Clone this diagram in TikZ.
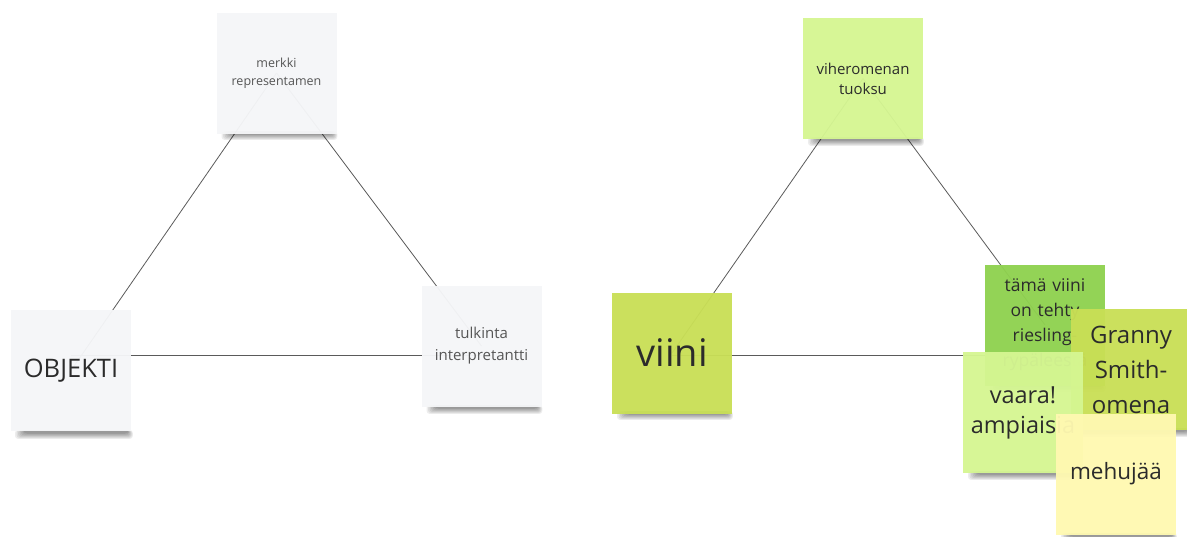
\documentclass[tikz,border=0pt]{standalone}
\usepackage{fontspec}
\setmainfont{Open Sans}
\usetikzlibrary{backgrounds}
\definecolor{notegray}{HTML}{F5F6F8}
\definecolor{lightgreen}{HTML}{D5F692}
\definecolor{limegreen}{HTML}{C9DF56}
\definecolor{midgreen}{HTML}{8FD14F}
\definecolor{lightyellow}{HTML}{FFF9B1}
\definecolor{textdark}{HTML}{2B2B2B}
\definecolor{textgray}{HTML}{555555}
\definecolor{linec}{HTML}{5A5A5A}
\tikzset{
  sticky/.style={minimum width=120pt, minimum height=121pt, inner sep=0pt,
    align=center, text width=114pt, text=textdark, fill opacity=0.96, text opacity=1},
  connector/.style={draw=linec, line width=0.8pt},
}
\newcommand\noteshadow[3]{%
  \foreach \k in {0,...,6}{
    \fill[black, opacity=0.07, rounded corners=3pt]
      (#1-#3+14-\k*1.5, #2-2) rectangle (#1+#3-4+\k*0.8, #2+1.5+\k*0.9);
  }}
\begin{document}
\begin{tikzpicture}[x=1pt,y=-1pt]
\useasboundingbox (0,0) rectangle (1187,536);

% left triangle
\noteshadow{276.5}{133}{60}
\node[sticky, fill=notegray, text=textgray, font=\fontsize{12.5}{18}\selectfont] (merkki) at (276.5,73) {merkki\\representamen};
\noteshadow{71}{432}{61}
\node[sticky, fill=notegray, font=\fontsize{25.5}{30}\selectfont] (objekti) at (71,370.5) {OBJEKTI};
\noteshadow{481.5}{407}{60}
\node[sticky, fill=notegray, text=textgray, font=\fontsize{15}{22}\selectfont] (tulkinta) at (481.5,346) {tulkinta\\interpretantti};

% right triangle
\noteshadow{863}{139}{60}
\node[sticky, fill=lightgreen, font=\fontsize{15}{20}\selectfont] (viher) at (863,78.5) {viheromenan\\tuoksu};
\noteshadow{672}{413}{60}
\node[sticky, fill=limegreen, font=\fontsize{38}{44}\selectfont] (viini) at (672,353) {viini};
\noteshadow{1045}{385}{60}
\node[sticky, fill=midgreen, font=\fontsize{17.5}{25}\selectfont] (tama) at (1045,325) {tämä viini\\on tehty\\riesling-\\rypäleestä};
\noteshadow{1131}{430}{60}
\node[sticky, fill=limegreen, font=\fontsize{24}{35}\selectfont] (granny) at (1131,369.5) {Granny\\Smith-\\omena};
\noteshadow{1023}{473}{60}
\node[sticky, fill=lightgreen, font=\fontsize{23.5}{30}\selectfont] (vaara) at (1023,412.5) {vaara!\\ampiaisia};
\noteshadow{1116}{535}{60}
\node[sticky, fill=lightyellow, font=\fontsize{22.5}{28}\selectfont] (mehu) at (1116,474) {mehujää};

\begin{scope}[on background layer]
  \draw[connector] (merkki.center) -- (objekti.center);
  \draw[connector] (merkki.center) -- (tulkinta.center);
  \draw[connector] ([yshift=15.5pt]objekti.center) -- ([yshift=-9pt]tulkinta.center);
  \draw[connector] (viher.center) -- (viini.center);
  \draw[connector] (viher.center) -- (tama.center);
  \draw[connector] ([yshift=-2pt]viini.center) -- ([yshift=-30pt]tama.center);
\end{scope}
\end{tikzpicture}
\end{document}
